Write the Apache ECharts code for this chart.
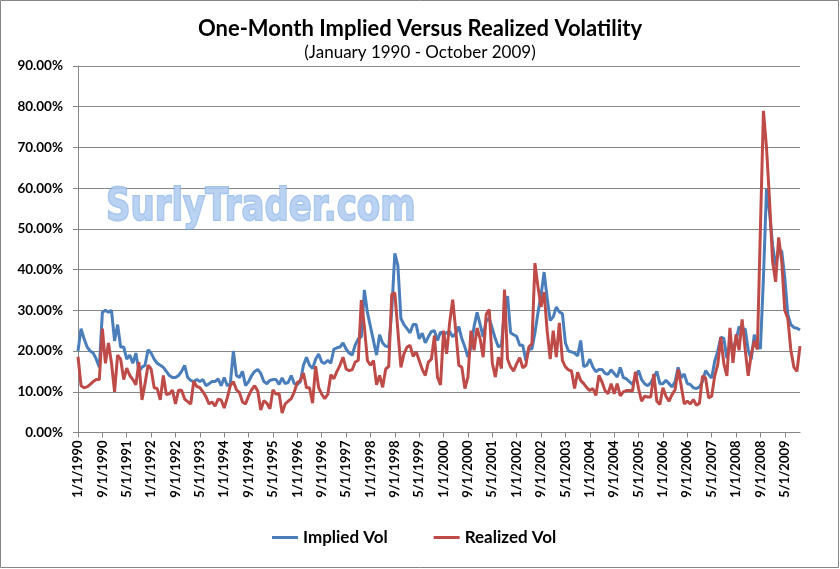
<!DOCTYPE html>
<html>
<head>
<meta charset="utf-8">
<script src="https://cdn.jsdelivr.net/npm/echarts@6/dist/echarts.min.js"></script>
<style>
html,body{margin:0;padding:0;background:#fff;}
#chart{width:840px;height:569px;}
</style>
</head>
<body>
<div id="chart"></div>
<script>
// Monthly observations, January 1990 - October 2009 (percent)
const startYear = 1990;
const monthCount = 238;
const categories = [];
for (let k = 0; k < monthCount; k++) {
  const m = (k % 12) + 1;
  const y = startYear + Math.floor(k / 12);
  categories.push(m + '/1/' + y);
}

const impliedVol = [
  20, 25.5, 23, 21, 20, 19.5, 18, 16, 29.5, 30,
  29.5, 30, 22.5, 26.5, 21, 21, 18, 19, 17, 19.5,
  15, 16, 16.5, 20.3, 19.5, 18, 17, 16.5, 16, 15,
  14, 13.5, 13.5, 14, 15, 16.5, 13.5, 12.8, 12.5, 13,
  12.5, 13, 11.5, 12, 12.5, 12.5, 13.2, 11.5, 13.5, 11.5,
  12, 20, 14, 13.5, 15, 11.5, 12.5, 14, 15, 15.5,
  14.5, 12.5, 12, 12.8, 13, 13, 11.8, 13.4, 12, 12.3,
  14, 12, 11.8, 12.5, 16.5, 18.5, 16.5, 15.7, 18, 19.3,
  17.3, 17, 17.7, 17, 20.5, 20.8, 21, 22, 20.5, 19.5,
  19, 21.5, 23, 23.5, 35, 29.5, 26, 22.5, 19, 24,
  22, 21.2, 21, 30, 44, 41, 28, 26.5, 25.5, 24.5,
  26.5, 26.5, 23, 24.4, 22, 23.5, 24.8, 25, 22.6, 24.7,
  24, 24.5, 24.8, 23.5, 24.3, 26, 23, 21, 18.5, 21,
  26, 29.5, 26.5, 23.5, 27.5, 28, 25.5, 23, 21, 21.5,
  30, 33.5, 24.5, 24, 23.6, 21.4, 21.4, 17.7, 20.5, 20.5,
  24.5, 29.5, 33.7, 39.4, 33, 27.5, 28.4, 30.8, 29.6, 29.2,
  22, 20, 19.8, 19.5, 18.8, 22.6, 16.2, 16.5, 18, 16.1,
  14.9, 15.5, 15.5, 14.5, 14.3, 15.4, 14.5, 13.6, 16,
  13.5, 13.2, 12.5, 11.8, 13.4, 15.2, 13, 12, 11.5, 12.2,
  13.5, 15, 12, 12, 12.8, 12, 11.2, 12.5, 16, 13.4,
  14.4, 12, 11.8, 11, 10.8, 11.2, 12.5, 15.2, 14.2, 13.4,
  17.5, 20, 23.4, 23.1, 18.2, 21.6, 21, 22.5, 26, 25,
  25.5, 20.2, 18, 24, 22, 20.5, 38, 59.8, 54, 46,
  41, 45, 44.5, 38, 29, 26.5, 25.8, 25.6, 25.2
];

const realizedVol = [
  18.6, 11.5, 11, 11.2, 11.8, 12.5, 13, 13, 25.5, 17,
  22, 17, 10, 19, 18, 13, 15.8, 14, 13, 11.7,
  17.3, 8, 12, 16.5, 15.6, 11, 10.8, 8, 14, 9.3,
  9.5, 10.4, 7, 10.4, 10.4, 8.2, 7.6, 7, 12.6, 11.3,
  11, 10, 8.8, 7, 7.5, 6.5, 8.2, 8, 6, 8.5,
  11.5, 12.5, 10.5, 9.8, 7.5, 7, 9, 10.5, 11.5, 10.2,
  5.5, 7.8, 7.2, 5.8, 10.5, 9.4, 9.6, 4.8, 7, 7.7,
  8.3, 10, 12.3, 12.8, 14.6, 11, 11, 7.2, 16.3, 11,
  9.4, 8.3, 9.4, 14.2, 13.2, 15, 16.5, 18.5, 15.6, 15.2,
  15.4, 17.3, 17.7, 32.5, 26, 17.7, 16.5, 17.7, 11.7, 14,
  11.1, 15.6, 16.2, 34, 34.3, 25, 16, 19.3, 21, 21.4,
  18.7, 19.8, 17.7, 15.5, 14, 17.3, 18, 23.8, 13.6, 11.7,
  25, 19.3, 27, 32.6, 25, 16.5, 16, 10.8, 13.6, 25,
  20.2, 25.7, 23, 18.5, 29, 30.2, 17, 13.6, 18.5, 15.7,
  35.1, 18, 16.1, 15.1, 16.9, 18.4, 15.9, 16.5, 21, 21.8,
  41.6, 35.7, 30.8, 34.5, 25, 18, 25, 18.5, 26.9, 17.7,
  16.1, 15.4, 15.1, 10.8, 14.8, 12.8, 12, 11, 10.3, 10.8,
  9.1, 14, 12.4, 10.3, 9.5, 12, 9.5, 12, 9,
  10, 10.3, 10.3, 10.2, 14.9, 10.8, 7.7, 8.9, 8.7, 8.7,
  14.4, 7.7, 6.9, 11, 8.9, 7.7, 9.3, 10.5, 15.5, 11.5,
  7, 7.7, 7, 8.1, 6.7, 7.2, 13.9, 13.4, 8.5, 8.9,
  13.9, 16.7, 23.4, 16.9, 13.9, 25.7, 17.1, 24.1, 20.2, 27.8,
  20.4, 13.9, 19.2, 22.5, 20.4, 50, 79, 70, 57, 42,
  37, 47.9, 42, 30, 28, 20.2, 16, 15, 21.2
];

const seriesNames = ['Implied Vol', 'Realized Vol'];
const yTicks = { min: 0, max: 90, step: 10 };

const FONT = 'Lato, "Open Sans", sans-serif';
const chart = echarts.init(document.getElementById('chart'));
chart.setOption({
  animation: false,
  backgroundColor: '#ffffff',
  title: {
    text: 'One-Month Implied Versus Realized Volatility',
    subtext: '(January 1990 - October 2009)',
    left: 'center',
    top: 13,
    itemGap: 4,
    textStyle: { fontFamily: FONT, fontWeight: 'bold', fontSize: 22, color: '#000' },
    subtextStyle: { fontFamily: FONT, fontSize: 17, color: '#000' }
  },
  grid: { left: 78, right: 40, top: 66, bottom: 136.5, containLabel: false },
  legend: {
    data: seriesNames,
    left: 267,
    top: 524,
    icon: 'rect',
    itemWidth: 26,
    itemHeight: 3,
    itemGap: 46,
    textStyle: { fontFamily: FONT, fontWeight: 'bold', fontSize: 17, color: '#000' }
  },
  xAxis: {
    type: 'category',
    data: categories,
    boundaryGap: false,
    axisLine: { lineStyle: { color: '#868686', width: 1 } },
    axisTick: { interval: 7, length: 5, lineStyle: { color: '#868686' } },
    axisLabel: {
      interval: 7, rotate: 90, margin: 8,
      fontFamily: FONT, fontWeight: 'bold', fontSize: 13, color: '#000'
    },
    splitLine: { show: false }
  },
  yAxis: {
    type: 'value',
    min: yTicks.min, max: yTicks.max, interval: yTicks.step,
    axisLine: { show: true, lineStyle: { color: '#868686', width: 1 } },
    axisTick: { show: true, length: 5, lineStyle: { color: '#868686' } },
    axisLabel: {
      margin: 15,
      fontFamily: FONT, fontWeight: 'bold', fontSize: 13.5, color: '#000',
      formatter: v => v.toFixed(2) + '%'
    },
    splitLine: { show: true, lineStyle: { color: '#868686', width: 1 } }
  },
  series: [
    {
      name: seriesNames[0], type: 'line', data: impliedVol,
      showSymbol: false, symbol: 'none',
      lineStyle: { color: '#4A7EBB', width: 3 }, itemStyle: { color: '#4A7EBB' }
    },
    {
      name: seriesNames[1], type: 'line', data: realizedVol,
      showSymbol: false, symbol: 'none',
      lineStyle: { color: '#BE4B48', width: 3 }, itemStyle: { color: '#BE4B48' }
    }
  ],
  graphic: [
    {
      type: 'rect', silent: true, z: 100,
      shape: { x: 0.5, y: 0.5, width: 838, height: 567 },
      style: { fill: 'none', stroke: '#868686', lineWidth: 1 }
    },
    {
      type: 'text', silent: true, z: 50,
      x: 106, y: 186, scaleX: 1.0, scaleY: 1.3,
      style: {
        text: 'SurlyTrader.com',
        font: 'bold 34px "DejaVu Sans", sans-serif',
        fill: 'rgba(175,203,240,0.85)',
        stroke: 'rgba(120,165,225,0.65)', lineWidth: 1.5,
        textVerticalAlign: 'top',
        shadowBlur: 10, shadowColor: 'rgba(90,145,220,0.8)'
      }
    }
  ]
});
</script>
</body>
</html>
